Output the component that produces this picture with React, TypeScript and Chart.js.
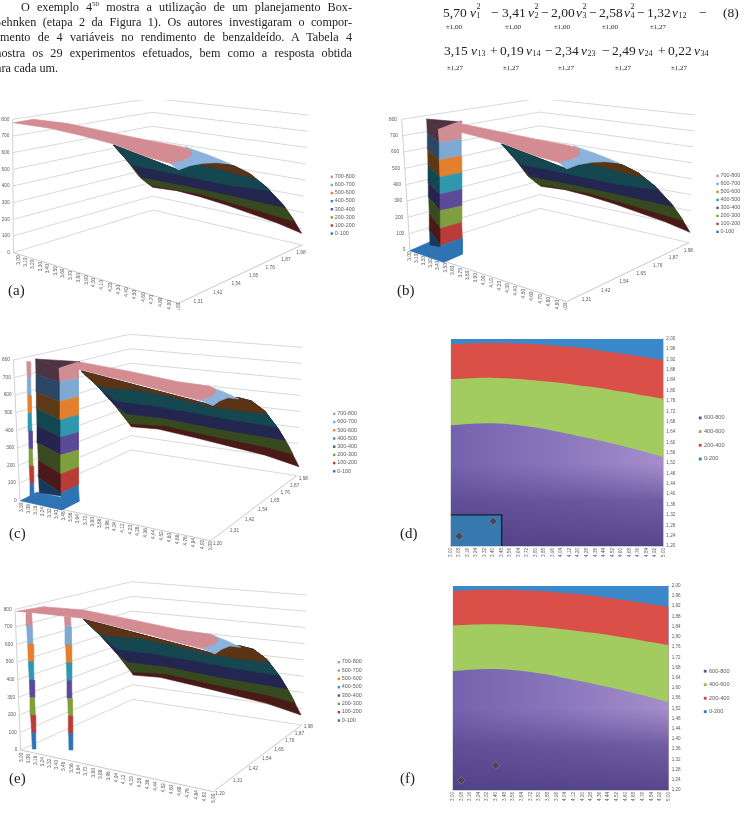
import React, { useEffect, useRef } from "react";
import { Chart, registerables } from "chart.js";
Chart.register(...registerables);

type P = [number, number];

// ---------- text ----------
const paragraph: [string, number][] = [
  ["O exemplo 4", 21],
  ["Behnken (etapa 2 da Figura 1). Os autores investigaram o compor-", -7],
  ["mento de 4 variáveis no rendimento de benzaldeído. A Tabela 4", 0],
  ["mostra os 29 experimentos efetuados, bem como a resposta obtida", -8],
];

// ---------- legend / tick tables ----------
const bands8 = ["700-800", "600-700", "500-600", "400-500", "300-400", "200-300", "100-200", "0-100"];
const bands4 = ["600-800", "400-600", "200-400", "0-200"];
const bright8 = ["#d08e94", "#7ea9d2", "#e47f2e", "#2f98ae", "#5a4a98", "#7f9e3d", "#ba3c38", "#2e74b5"];
const dark8 = ["#4e3340", "#2c4766", "#5c3a18", "#124650", "#25244f", "#3a4a20", "#4a1a1a", "#17395c"];
const legend4Colors = ["#5f4f9c", "#8fb84a", "#cf4440", "#2f7ab8"];
const yieldTicks = [0, 100, 200, 300, 400, 500, 600, 700, 800];
const depthTicks = ["1,20", "1,31", "1,42", "1,54", "1,65", "1,76", "1,87", "1,98"];
const v1Short = ["3,00","3,10","3,20","3,30","3,40","3,50","3,60","3,70","3,80","3,90","4,00","4,10","4,20","4,30","4,40","4,50","4,60","4,70","4,80","4,90","5,00"];
const v1Long = ["3,00","3,08","3,16","3,24","3,32","3,40","3,48","3,56","3,64","3,72","3,80","3,88","3,96","4,04","4,12","4,20","4,28","4,36","4,44","4,52","4,60","4,68","4,76","4,84","4,92","5,00"];
const yTicks = [1.2,1.24,1.28,1.32,1.36,1.4,1.44,1.48,1.52,1.56,1.6,1.64,1.68,1.72,1.76,1.8,1.84,1.88,1.92,1.96,2];

// ---------- contour panels (d), (f): v1 vs v2 ----------
const contourV1 = [3.0, 3.2, 3.4, 3.6, 3.8, 4.0, 4.2, 4.4, 4.6, 4.8, 5.0];
const level600 = [1.666, 1.672, 1.674, 1.668, 1.657, 1.642, 1.625, 1.607, 1.588, 1.567, 1.544];
const level400 = [1.844, 1.848, 1.849, 1.846, 1.839, 1.831, 1.821, 1.81, 1.796, 1.782, 1.768];
const level200 = [1.979, 1.983, 1.984, 1.982, 1.979, 1.973, 1.966, 1.955, 1.943, 1.931, 1.918];
const level000 = [2, 2, 2, 2, 2, 2, 2, 2, 2, 2, 2];
const boxV1 = [3, 3.48, 3.48];
const boxV2 = [1.32, 1.32, 1.2];
const experimentV1 = [3.08, 3.4];
const experimentV2 = [1.238, 1.296];

// ---------- 3D surface outlines (a, b) ----------
const aMaroon: P[] = [[458,262],[530,272],[600,290],[680,315],[750,340],[830,368],[905,400],[880,358],[850,315],[800,262],[750,222],[700,197],[650,188],[610,190],[570,197],[535,210],[340,135],[380,180],[420,232]];
const aGreen: P[] = [[450,256],[600,282],[750,325],[885,365],[850,315],[800,262],[750,222],[700,197],[650,188],[610,190],[570,197],[535,210],[340,135],[380,180],[420,232]];
const aNavy: P[] = [[425,232],[560,258],[700,288],[856,323],[800,262],[750,222],[700,197],[650,188],[610,190],[570,197],[535,210],[340,135],[380,180]];
const aTeal: P[] = [[395,195],[480,212],[600,238],[700,258],[808,272],[750,222],[700,197],[650,188],[610,190],[570,197],[535,210],[340,135]];
const aBrown: P[] = [[600,194],[650,205],[710,222],[765,235],[750,222],[700,197],[650,188],[610,190]];
const aBlue: P[] = [[555,140],[625,165],[692,192],[650,188],[610,190],[570,197],[535,210],[510,190],[560,178]];
const aPink: P[] = [[40,68],[100,58],[200,70],[320,95],[450,122],[545,140],[570,150],[576,160],[568,172],[545,182],[510,190],[440,170],[340,132],[250,108],[150,85]];
const aPinkCut: P[] = [[218,74],[320,95],[450,122],[545,140],[570,150],[576,160],[568,172],[545,182],[510,190],[440,170],[340,132],[250,108],[218,100]];

// ---------- 3D surface outlines (c, e) ----------
const eMaroon: P[] = [[400,315],[480,322],[600,350],[700,375],[800,400],[903,435],[870,370],[840,320],[800,268],[760,238],[720,228],[690,228],[665,238],[645,252],[250,148],[300,195],[350,250],[385,295]];
const eGreen: P[] = [[398,306],[500,312],[650,345],[800,375],[885,398],[870,370],[840,320],[800,268],[760,238],[720,228],[690,228],[665,238],[645,252],[250,148],[300,195],[350,250],[385,295]];
const eNavy: P[] = [[385,276],[500,290],[650,320],[862,356],[840,320],[800,268],[760,238],[720,228],[690,228],[665,238],[645,252],[250,148],[300,195],[350,250]];
const eTeal: P[] = [[352,238],[450,250],[570,270],[700,295],[836,316],[800,268],[760,238],[720,228],[690,228],[665,238],[645,252],[250,148],[300,195]];
const eBrown: P[] = [[320,198],[420,205],[530,228],[640,255],[730,268],[808,276],[800,268],[760,238],[720,228],[690,228],[665,238],[645,252],[250,148],[290,185]];
const eBlue: P[] = [[630,193],[680,212],[722,232],[690,228],[665,238],[645,252],[605,235],[635,225]];
const ePink: P[] = [[50,124],[130,110],[250,120],[400,150],[540,180],[632,193],[650,202],[654,212],[640,224],[605,235],[550,222],[450,195],[350,170],[250,145],[100,128]];
const ePinkCut: P[] = [[241,120],[400,150],[540,180],[632,193],[650,202],[654,212],[640,224],[605,235],[550,222],[450,195],[350,170],[250,145],[241,143]];

// ---------- walls of the excluded region: [left x, left y, right x, right y] per yield level ----------
const bBright = [[190,88,258,62],[193,128,258,118],[193,180,258,168],[195,232,260,218],[195,283,260,268],[196,332,260,318],[197,385,260,367],[197,437,262,415],[205,487,262,462]];
const bDark = [[155,57,190,88],[157,100,193,128],[158,148,193,180],[159,198,195,232],[160,248,195,283],[161,292,196,332],[163,342,197,385],[164,392,197,437],[165,435,197,440]];
const bFloor: P[] = [[105,452],[165,425],[262,462],[205,487]];
const bCap: P[] = [[155,57],[262,66],[190,88]];
const cBright = [[177,115,235,95],[180,157,235,145],[180,215,235,200],[182,270,235,255],[182,322,235,307],[182,375,235,360],[183,432,235,412],[183,490,235,465],[185,540,238,513]];
const cDark = [[107,87,177,115],[108,133,180,157],[109,187,180,215],[110,237,182,270],[111,287,182,322],[113,340,182,375],[115,392,183,432],[116,443,183,490],[118,488,183,498]];
const cThin = [[80,95,90,95],[82,142,92,142],[83,197,93,197],[84,250,94,250],[86,303,96,303],[87,357,97,357],[88,408,99,408],[90,460,101,460],[91,507,103,507]];
const cFloor: P[] = [[62,512],[110,487],[238,513],[185,540]];
const cCap: P[] = [[107,87],[240,95],[177,115]];
const eCol1 = [[78,127,95,127],[80,168,97,168],[83,222,99,222],[85,275,101,275],[88,330,102,330],[90,383,104,383],[92,436,106,436],[95,488,107,488],[97,537,108,537]];
const eCol2 = [[193,140,212,140],[195,170,213,170],[197,225,214,225],[199,278,215,278],[201,332,215,332],[203,385,216,385],[205,438,217,438],[206,490,218,490],[207,540,218,540]];

// ---------- helpers ----------
const pts = (a: P[], dx = 0, dy = 0) => a.map(([x, y]) => ({ x: x + dx, y: y + dy }));
const poly = (label: string, color: string, a: P[], dx = 0, dy = 0) => {
  const d = pts(a, dx, dy);
  d.push({ ...d[0] });
  return { label, data: d, showLine: true, fill: "shape", backgroundColor: color, borderColor: color, borderWidth: 0.6, pointRadius: 0, tension: 0 };
};
const line = (label: string, a: P[], color = "#d8d8d8", w = 1) => ({
  label, data: pts(a), showLine: true, fill: false, borderColor: color, borderWidth: w, pointRadius: 0, tension: 0,
});
const stripes = (name: string, rows: number[][], colors: string[]) =>
  colors.map((c, i) =>
    poly(`${name}-${i}`, c, [
      [rows[i][0], rows[i][1]], [rows[i][2], rows[i][3]], [rows[i + 1][2], rows[i + 1][3]], [rows[i + 1][0], rows[i + 1][1]],
    ])
  );
const lerp = (a: P, b: P, t: number): P => [a[0] + (b[0] - a[0]) * t, a[1] + (b[1] - a[1]) * t];
const persp = (t: number, k: number) => (k * t) / (1 + (k - 1) * t);

const FONT = '"Liberation Sans", sans-serif';
const TEXT = "#5a5a5a";

interface Frame { L0: P; L8: P; B0: P; B8: P; R0: P; R8: P; F0: P; }
interface P3 {
  w: number; h: number; frame: Frame; v1: string[]; hideFirstDepth: boolean;
  legendX: number; legendY: number; legendStep: number;
  xl0: P; xl1: P; dOff: P; dK: number; zGap: number; back: any[]; front: any[];
}

function config3D(p: P3): any {
  const { L0, L8, B0, B8, R0, R8, F0 } = p.frame;
  const grid = yieldTicks.map((z) => {
    const t = z / 800;
    return line(`grid-${z}`, [lerp(L0, L8, t), lerp(B0, B8, t), lerp(R0, R8, t)]);
  });
  const frame = [line("axis-z", [L0, L8], "#d0d0d0"), line("axis-floor", [L0, F0, R0], "#c8c8c8")];
  const datasets = [...grid, ...frame, ...p.back, ...p.front].reverse();
  const decor = {
    id: "decor3d",
    afterDatasetsDraw(chart: any) {
      const { ctx, scales } = chart;
      const X = (v: number) => scales.x.getPixelForValue(v);
      const Y = (v: number) => scales.y.getPixelForValue(v);
      ctx.save();
      ctx.fillStyle = TEXT;
      ctx.font = `4.8px ${FONT}`;
      ctx.textBaseline = "middle";
      ctx.textAlign = "right";
      yieldTicks.forEach((z) => {
        const q = lerp(L0, L8, z / 800);
        ctx.fillText(String(z), X(q[0] - p.zGap), Y(q[1]));
      });
      ctx.textAlign = "center";
      p.v1.forEach((s, i) => {
        const q = lerp(p.xl0, p.xl1, persp(i / (p.v1.length - 1), 0.9));
        ctx.save();
        ctx.translate(X(q[0]), Y(q[1]));
        ctx.rotate(-Math.PI / 2);
        ctx.fillText(s, 0, 0);
        ctx.restore();
      });
      depthTicks.forEach((s, i) => {
        if (i === 0 && p.hideFirstDepth) return;
        const q = lerp(F0, R0, persp(i / (depthTicks.length - 1), p.dK));
        ctx.fillText(s, X(q[0] + p.dOff[0]), Y(q[1] + p.dOff[1]));
      });
      ctx.textAlign = "left";
      ctx.font = `5.4px ${FONT}`;
      bands8.forEach((s, i) => {
        const y = p.legendY + i * p.legendStep;
        ctx.fillStyle = bright8[i];
        ctx.fillRect(X(p.legendX) - 1, Y(y) - 1, 2.4, 2.4);
        ctx.fillStyle = TEXT;
        ctx.fillText(s, X(p.legendX) + 3.2, Y(y));
      });
      ctx.restore();
    },
  };
  return {
    type: "scatter",
    data: { datasets },
    plugins: [decor],
    options: {
      animation: false, responsive: false,
      layout: { padding: 0 },
      plugins: { legend: { display: false }, tooltip: { enabled: false } },
      scales: {
        x: { type: "linear", display: false, min: 0, max: p.w },
        y: { type: "linear", display: false, min: 0, max: p.h, reverse: true },
      },
    },
  };
}

const surfaceA = (pink: P[], dx: number, dy: number) => [
  poly("100-200", "#4a1a17", aMaroon, dx, dy),
  poly("200-300", "#37491f", aGreen, dx, dy),
  poly("300-400", "#232750", aNavy, dx, dy),
  poly("400-500", "#14474f", aTeal, dx, dy),
  poly("500-600", "#5b3315", aBrown, dx, dy),
  poly("600-700", "#8bb3dd", aBlue, dx, dy),
  poly("700-800", "#d38c92", pink, dx, dy),
];
const surfaceE = (pink: P[], dx: number, dy: number) => [
  poly("100-200", "#4a1a17", eMaroon, dx, dy),
  poly("200-300", "#37491f", eGreen, dx, dy),
  poly("300-400", "#232750", eNavy, dx, dy),
  poly("400-500", "#14474f", eTeal, dx, dy),
  poly("500-600", "#5b3315", eBrown, dx, dy),
  poly("600-700", "#8bb3dd", eBlue, dx, dy),
  poly("700-800", "#d38c92", pink, dx, dy),
];

const panelA = (): any => config3D({
  w: 1110, h: 630,
  frame: { L0: [40,458], L8: [38,58], B0: [458,330], B8: [455,-5], R0: [905,435], R8: [925,45], F0: [535,610] },
  v1: v1Short, hideFirstDepth: true, legendX: 995, legendY: 230, legendStep: 24.3,
  xl0: [55,480], xl1: [535,622], dOff: [-2,24], dK: 1.2, zGap: 10, back: surfaceA(aPink, 0, 0), front: [],
});
const panelB = (): any => config3D({
  w: 1110, h: 630,
  frame: { L0: [105,450], L8: [80,58], B0: [495,325], B8: [492,-5], R0: [942,428], R8: [960,45], F0: [575,605] },
  v1: v1Short, hideFirstDepth: true, legendX: 1027, legendY: 227, legendStep: 24,
  xl0: [103,468], xl1: [573,622], dOff: [-2,24], dK: 1.2, zGap: 14, back: surfaceA(aPinkCut, 40, -3),
  front: [poly("floor", "#2e74b5", bFloor), poly("cap", "#4e3340", bCap), ...stripes("dark", bDark, dark8), ...stripes("bright", bBright, bright8)],
});
const panelC = (): any => config3D({
  w: 1125, h: 660,
  frame: { L0: [60,512], L8: [40,90], B0: [393,360], B8: [388,13], R0: [890,437], R8: [908,52], F0: [632,632] },
  v1: v1Long, hideFirstDepth: false, legendX: 1002, legendY: 251, legendStep: 24.6,
  xl0: [65,532], xl1: [632,648], dOff: [20,10], dK: 1.5, zGap: 10, back: surfaceE(ePinkCut, -6, -25),
  front: [poly("floor", "#2e74b5", cFloor), poly("cap", "#4e3340", cCap), ...stripes("thin", cThin, bright8), ...stripes("dark", cDark, dark8), ...stripes("bright", cBright, bright8)],
});
const panelE = (): any => config3D({
  w: 1125, h: 720,
  frame: { L0: [62,540], L8: [45,118], B0: [398,388], B8: [395,35], R0: [905,465], R8: [920,75], F0: [640,665] },
  v1: v1Long, hideFirstDepth: false, legendX: 1016, legendY: 276, legendStep: 25,
  xl0: [65,562], xl1: [640,685], dOff: [20,6], dK: 1.5, zGap: 10, back: [...stripes("col1", eCol1, bright8), ...stripes("col2", eCol2, bright8)],
  front: surfaceE(ePink, 0, 0),
});

function contourConfig(opts: { left: number; legendX: number; legendY: number; legendStep: number; padL: number; padT: number; rightW: number; botH: number; box: boolean }): any {
  const series = (ys: number[]) => contourV1.map((x, i) => ({ x, y: ys[i] }));
  const area = (label: string, color: any, ys: number[]) => ({
    label, data: series(ys), showLine: true, fill: "start", backgroundColor: color, borderColor: "rgba(0,0,0,0)", borderWidth: 0, pointRadius: 0, tension: 0.3,
  });
  const purple = (c: any) => {
    const { ctx, chartArea } = c.chart;
    if (!chartArea) return "#7460ae";
    const g = ctx.createLinearGradient(chartArea.left, 0, chartArea.right, 0);
    g.addColorStop(0, "#7562ae");
    g.addColorStop(0.5, "#8a76bc");
    g.addColorStop(1, "#a68ecb");
    return g;
  };
  const shade = (c: any) => {
    const { ctx, chartArea, scales } = c.chart;
    if (!chartArea) return "rgba(0,0,0,0)";
    const g = ctx.createLinearGradient(0, scales.y.getPixelForValue(1.2), 0, scales.y.getPixelForValue(1.52));
    g.addColorStop(0, "rgba(78,62,132,0.9)");
    g.addColorStop(0.55, "rgba(84,68,140,0.65)");
    g.addColorStop(1, "rgba(90,72,150,0)");
    return g;
  };
  const datasets: any[] = [];
  datasets.push({
    label: "runs", data: experimentV1.map((x, i) => ({ x, y: experimentV2[i] })),
    pointStyle: "rectRot", pointRadius: 4, backgroundColor: "#4a4458", borderColor: "#8a8694", borderWidth: 0.6, showLine: false,
  });
  if (opts.box) {
    datasets.push({
      label: "excluded", data: boxV1.map((x, i) => ({ x, y: boxV2[i] })), showLine: true, fill: "start",
      backgroundColor: "#3778ae", borderColor: "#14202c", borderWidth: 1.4, pointRadius: 0, tension: 0,
    });
  }
  const lowShade = contourV1.map(() => 1.52);
  datasets.push(area("shade", shade, lowShade));
  datasets.push(area("600-800", purple, level600));
  datasets.push(area("400-600", "#a3cc60", level400));
  datasets.push(area("200-400", "#db4f49", level200));
  datasets.push(area("0-200", "#3a88ca", level000));
  const legendPlugin = {
    id: "legend4",
    afterDraw(chart: any) {
      const { ctx } = chart;
      ctx.save();
      ctx.textBaseline = "middle";
      ctx.font = `5.6px ${FONT}`;
      bands4.forEach((s, i) => {
        const y = opts.legendY + i * opts.legendStep;
        const x = opts.legendX - opts.left;
        ctx.fillStyle = legend4Colors[i];
        ctx.fillRect(x - 1.2, y - 1.2, 2.8, 2.8);
        ctx.fillStyle = TEXT;
        ctx.fillText(s, x + 4, y);
      });
      ctx.restore();
    },
  };
  const tickFont = { size: 4.6, family: FONT };
  return {
    type: "scatter",
    data: { datasets },
    plugins: [legendPlugin],
    options: {
      animation: false, responsive: false,
      layout: { padding: { left: opts.padL, top: opts.padT, right: 0, bottom: 0 } },
      plugins: { legend: { display: false }, tooltip: { enabled: false } },
      scales: {
        x: {
          type: "linear", min: 3, max: 5,
          afterBuildTicks: (s: any) => { s.ticks = v1Long.map((v) => ({ value: parseFloat(v.replace(",", ".")) })); },
          grid: { display: false, drawTicks: false }, border: { color: "#c8d0d8" },
          ticks: { autoSkip: false, maxRotation: 90, minRotation: 90, font: tickFont, color: TEXT, padding: 2, callback: (v: any) => Number(v).toFixed(2).replace(".", ",") },
          afterFit: (s: any) => { s.height = opts.botH; },
        },
        y: {
          type: "linear", position: "right", min: 1.2, max: 2,
          afterBuildTicks: (s: any) => { s.ticks = yTicks.map((v) => ({ value: v })); },
          grid: { display: false, drawTicks: false }, border: { color: "#c8d0d8" },
          ticks: { autoSkip: false, font: tickFont, color: TEXT, padding: 3, callback: (v: any) => Number(v).toFixed(2).replace(".", ",") },
          afterFit: (s: any) => { s.width = opts.rightW; },
        },
      },
    },
  };
}

const panelD = () => contourConfig({ left: 446, legendX: 700, legendY: 84.7, legendStep: 13.7, padL: 1.7, padT: 1.3, rightW: 85.7, botH: 22, box: true });
const panelF = () => contourConfig({ left: 448, legendX: 705, legendY: 91, legendStep: 13.5, padL: 1, padT: 1.7, rightW: 80.3, botH: 20, box: false });

function ChartBox({ left, top, w, h, build }: { left: number; top: number; w: number; h: number; build: () => any }) {
  const ref = useRef<HTMLCanvasElement>(null);
  useEffect(() => {
    const c = new Chart(ref.current as any, build());
    return () => c.destroy();
  }, []);
  return <canvas ref={ref} width={w} height={h} style={{ position: "absolute", left, top, width: w, height: h, display: "block", filter: "blur(0.45px)" }} />;
}

const serif = '"Liberation Serif", serif';
function T({ x, y, s, size = 13.5, style }: any) {
  return <span style={{ position: "absolute", left: x, top: y, fontFamily: serif, fontSize: size, lineHeight: "1", whiteSpace: "nowrap", color: "#222", ...style }}>{s}</span>;
}

interface Term { op?: string; opX?: number; x: number; coef: string; err: string; sub: string; sup?: string; vx: number; }
const row1: Term[] = [
  { x: 443, coef: "5,70", err: "±1,00", sub: "1", sup: "2", vx: 470 },
  { op: "−", opX: 491, x: 502, coef: "3,41", err: "±1,00", sub: "2", sup: "2", vx: 528 },
  { op: "−", opX: 541, x: 551, coef: "2,00", err: "±1,00", sub: "3", sup: "2", vx: 576 },
  { op: "−", opX: 589, x: 599, coef: "2,58", err: "±1,00", sub: "4", sup: "2", vx: 624 },
  { op: "−", opX: 637, x: 647, coef: "1,32", err: "±1,27", sub: "12", vx: 672 },
];
const row2: Term[] = [
  { x: 444, coef: "3,15", err: "±1,27", sub: "13", vx: 471 },
  { op: "+", opX: 490, x: 500, coef: "0,19", err: "±1,27", sub: "14", vx: 526 },
  { op: "−", opX: 545, x: 555, coef: "2,34", err: "±1,27", sub: "23", vx: 581 },
  { op: "−", opX: 602, x: 612, coef: "2,49", err: "±1,27", sub: "24", vx: 638 },
  { op: "+", opX: 658, x: 668, coef: "0,22", err: "±1,27", sub: "34", vx: 694 },
];

function EqRow({ terms, y, errDy }: { terms: Term[]; y: number; errDy: number }) {
  return (
    <>
      {terms.map((t, i) => (
        <React.Fragment key={i}>
          {t.op && <T x={t.opX} y={y} s={t.op} />}
          <T x={t.x} y={y} s={t.coef} />
          <T x={t.vx} y={y} s="v" style={{ fontStyle: "italic" }} />
          <T x={t.vx + 6.5} y={y + 6} s={t.sub} size={8} />
          {t.sup && <T x={t.vx + 6.5} y={y - 3} s={t.sup} size={8} />}
          <T x={t.x + 3} y={y + errDy} s={t.err} size={7} />
        </React.Fragment>
      ))}
    </>
  );
}

export default function App() {
  return (
    <div style={{ position: "absolute", left: 0, top: 0, width: 749, height: 815, overflow: "hidden", background: "#fff" }}>
      <div style={{ position: "absolute", inset: 0, filter: "blur(0.3px)" }}>
        {paragraph.map(([s, x], i) => (
          <div key={i} style={{ position: "absolute", left: x, top: i === 0 ? 0 : -1 + i * 15.6, width: 352 - x, fontFamily: serif, fontSize: 12.2, lineHeight: "15px", textAlign: "justify", textAlignLast: "justify", whiteSpace: "nowrap", color: "#222" }}>
            {i === 0 ? <>O exemplo 4<sup style={{ fontSize: 7, lineHeight: 0 }}>50</sup> mostra a utilização de um planejamento Box-</> : s}
          </div>
        ))}
        <div style={{ position: "absolute", left: -10, top: 61.4, fontFamily: serif, fontSize: 12.2, lineHeight: "15px", whiteSpace: "nowrap", color: "#222" }}>para cada um.</div>
        <EqRow terms={row1} y={6} errDy={18} />
        <T x={699} y={6} s="−" />
        <T x={723} y={6} s="(8)" />
        <EqRow terms={row2} y={44} errDy={21} />
        <T x={8} y={283} s="(a)" size={15} />
        <T x={397} y={283} s="(b)" size={15} />
        <T x={9} y={526} s="(c)" size={15} />
        <T x={400} y={526} s="(d)" size={15} />
        <T x={9} y={771} s="(e)" size={15} />
        <T x={400} y={771} s="(f)" size={15} />
      </div>
      <ChartBox left={0} top={100} w={370} h={210} build={panelA} />
      <ChartBox left={375} top={100} w={370} h={210} build={panelB} />
      <ChartBox left={0} top={330} w={375} h={220} build={panelC} />
      <ChartBox left={446} top={333} w={303} h={235} build={panelD} />
      <ChartBox left={0} top={570} w={375} h={240} build={panelE} />
      <ChartBox left={448} top={580} w={301} h={230} build={panelF} />
    </div>
  );
}
